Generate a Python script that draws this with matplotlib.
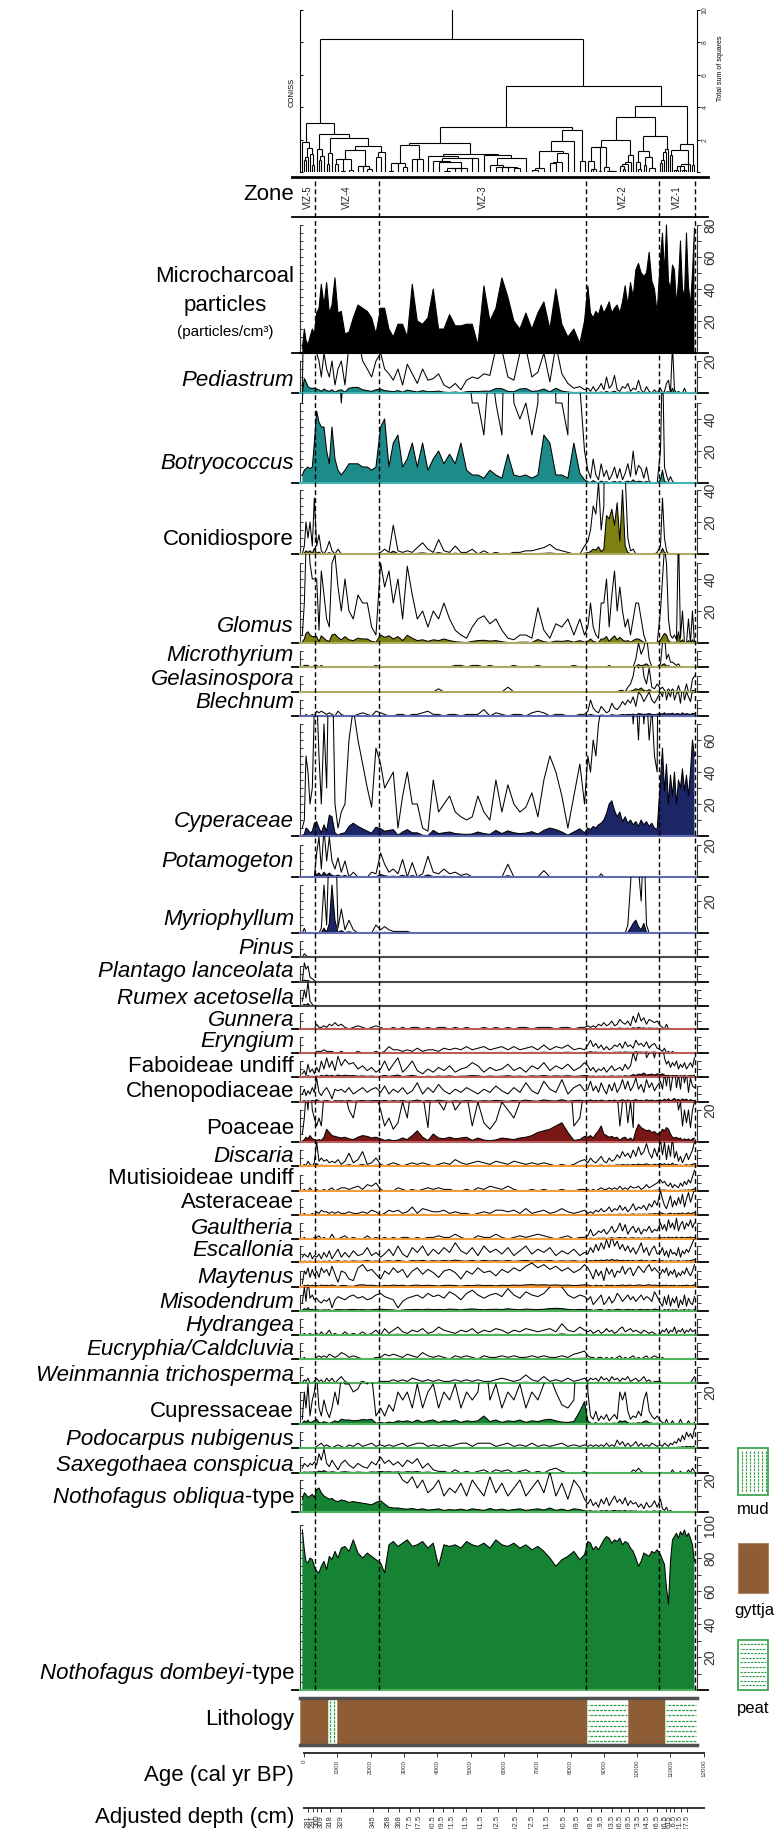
import numpy as np
import matplotlib
matplotlib.use("Agg")
import matplotlib.pyplot as plt
from matplotlib.collections import LineCollection
from matplotlib.lines import Line2D
from matplotlib.patches import Rectangle

plt.rcParams['font.family'] = ['Liberation Sans', 'DejaVu Sans']

# ============================ DATA ============================
# sample ages (cal yr BP); rows = zones VIZ-5 | VIZ-4 | VIZ-3 | VIZ-2 | VIZ-1
ages = [-50, 10, 60, 120, 180, 250, 310,
        380, 450, 520, 600, 680, 760, 840, 930, 1020, 1120, 1230, 1350, 1480, 1620, 1760, 1900, 2030, 2160,
        2300, 2420, 2550, 2680, 2820, 2960, 3100, 3250, 3400, 3560, 3720, 3880, 4040, 4200, 4370, 4540, 4710, 4880,
        5050, 5220, 5400, 5580, 5760, 5940, 6120, 6300, 6480, 6660, 6840, 7020, 7200, 7380, 7560, 7740, 7920, 8100, 8280, 8420,
        8520, 8600, 8680, 8760, 8840, 8920, 9000, 9080, 9160, 9240, 9320, 9400, 9480, 9560, 9640, 9720, 9800, 9880, 9960,
        10040, 10120, 10200, 10280, 10360, 10440, 10520, 10600,
        10700, 10760, 10820, 10880, 10940, 11000, 11060, 11120, 11180, 11240, 11300, 11360, 11420, 11480, 11540, 11600, 11660, 11720]

charcoal = [3, 15, 8, 5, 10, 15, 12,
            25, 28, 43, 30, 44, 25, 30, 47, 25, 26, 12, 13, 22, 30, 28, 26, 22, 12,
            28, 28, 15, 10, 18, 18, 10, 43, 20, 18, 22, 40, 15, 15, 24, 17, 17, 18, 18, 5, 42, 20, 28, 47, 35, 20, 15, 25, 15, 25, 32, 15, 40, 18, 10, 15, 6, 20,
            42, 25, 22, 26, 24, 30, 25, 28, 32, 25, 28, 30, 25, 32, 42, 30, 44, 35, 52, 56, 50, 48, 50, 63, 45, 40, 25,
            60, 75, 50, 80, 45, 40, 55, 52, 30, 45, 70, 40, 35, 75, 42, 30, 50, 78]

pediastrum = [0, 9, 7, 4, 3, 3, 3,
              2.5, 2, 1, 2.5, 1.5, 1, 2, 0.5, 1.5, 2, 0.5, 3, 3.5, 3.5, 2, 1.5, 1, 2,
              2.5, 1.5, 1.2, 0.8, 1.5, 0.5, 1.8, 1.2, 0.6, 1.5, 0.8, 0.9, 1.2, 0.5, 0.3, 0.6, 0.2, 0.8, 1.0, 0.9, 1.2, 1.1, 2.8, 2.7, 1.0, 0.8, 2.5, 2.8, 1.0, 1.3, 2.5, 0.7, 3.0, 1.2, 0.6, 0.3, 0.4, 0.2,
              0.3, 0.1, 0.4, 0.1, 0.3, 0.6, 0.2, 1.0, 0.3, 0.5, 1.1, 0.2, 0.1, 0.4, 0.3, 0.6, 0.1, 0.3, 0.2, 0.8, 0.2, 0.0, 0.4, 0.1, 0.0, 0.2, 0.0,
              0.3, 0.0, 0.1, 0.6, 0.8, 0.0, 3.0, 0.2, 0.0, 0.1, 0.0, 0.0, 0.3, 0.0, 0.0, 0.0, 0.0, 0.0]

botryococcus = [5, 8, 9, 10, 9, 10, 25,
                45, 38, 35, 35, 20, 12, 35, 15, 8, 5, 8, 12, 12, 12, 10, 10, 8, 10,
                35, 40, 10, 25, 30, 10, 15, 25, 10, 25, 8, 15, 20, 12, 18, 12, 25, 8, 5, 5, 3, 8, 5, 3, 18, 5, 4, 5, 3, 5, 30, 25, 5, 5, 3, 25, 6, 2,
                0.8, 0.3, 1.5, 0.5, 0.2, 1.2, 0.4, 0.8, 0.2, 0.5, 1.0, 0.3, 0.9, 0.2, 0.6, 1.2, 0.4, 2.0, 0.5, 1.1, 0.9, 0.3, 1.0, 0.1, 0, 0, 0,
                2, 8, 1, 0.5, 0.1, 0.4, 0.1, 0, 0, 0, 0, 0, 0, 0, 0, 0, 0, 0]

conidiospore = [0, 0.5, 2.0, 1.0, 2.0, 0.5, 3.5,
                0.5, 1.2, 0.2, 0, 0.3, 0.8, 0.2, 0, 0.3, 0, 0, 0, 0, 0, 0, 0, 0, 0,
                0.1, 0.3, 0.1, 1.8, 0.2, 0.1, 0.2, 0.1, 0.4, 0.7, 0.3, 0.1, 0.9, 0.2, 0.1, 0.5, 0.1, 0.1, 0.3, 0, 0.2, 0, 0.1, 0, 0, 0.1, 0.1, 0.2, 0.2, 0.3, 0.4, 0.6, 0.3, 0.2, 0.1, 0, 0, 0.5,
                0.8, 1.5, 3.0, 2.5, 4.5, 1.5, 3.0, 24, 22, 28, 18, 32, 8, 40, 5, 1.0, 0.2, 0.3, 0, 0, 0, 0, 0, 0, 0, 0, 0.1,
                0.5, 3.5, 1.0, 0.2, 0, 0, 0, 0, 0, 0, 0, 0, 0, 0, 0, 0, 0, 0]

glomus = [0.5, 2.5, 6, 7, 5, 4, 4,
          4.0, 0.8, 4.5, 3.0, 1.5, 1.0, 5.0, 5.5, 3.5, 2.0, 4.0, 2.0, 1.5, 3.0, 2.5, 2.5, 1.0, 0.5,
          5.0, 3.5, 4.5, 2.5, 4.0, 1.5, 4.8, 3.0, 1.5, 2.0, 1.0, 2.0, 1.5, 2.5, 1.5, 0.8, 0.5, 0.3, 1.0, 1.5, 1.7, 1.2, 1.5, 0.8, 0.3, 0.2, 0.5, 0.5, 0.3, 2.2, 0.8, 0.3, 1.2, 1.0, 1.5, 0.5, 1.5, 0.5,
          1.0, 2.5, 1.0, 0.5, 0.3, 2.5, 2.5, 4.0, 1.0, 3.0, 4.5, 2.0, 3.5, 2.0, 1.0, 1.5, 0.5, 1.5, 2.5, 2.5, 1.5, 0.5, 0, 0, 0, 0, 0,
          2.0, 4.0, 6.0, 5.0, 1.5, 0.5, 0.3, 0.5, 0.2, 7.0, 0.3, 2.0, 0, 0, 1.5, 0, 2.0, 0]

microthyrium = [0, 0.1, 0.1, 0.1, 0, 0, 0.1,
                0.1, 0, 0.1, 0, 0, 0, 0, 0, 0, 0, 0, 0, 0, 0, 0, 0, 0, 0.1,
                0, 0, 0, 0, 0, 0, 0, 0, 0, 0, 0, 0, 0, 0, 0, 0.1, 0.1, 0, 0.1, 0.1, 0, 0.1, 0, 0, 0, 0.1, 0, 0, 0, 0.1, 0, 0, 0, 0, 0, 0.1, 0, 0,
                0, 0, 0, 0, 0, 0, 0, 0, 0.1, 0, 0, 0, 0, 0, 0, 0, 0, 0, 0.5, 1.5, 0.8, 1.2, 2.0, 0.5, 0, 0, 0,
                0.2, 1.5, 2.0, 0.5, 0.8, 0.3, 0.3, 0.2, 0.1, 0.2, 0, 0, 0, 0, 0, 0, 0, 0]

gelasinospora = [0, 0, 0, 0, 0, 0, 0,
                 0, 0, 0, 0, 0, 0, 0, 0, 0, 0, 0, 0, 0, 0, 0, 0, 0, 0,
                 0, 0, 0, 0, 0, 0, 0, 0, 0, 0, 0, 0, 0.2, 0, 0, 0, 0, 0, 0, 0, 0, 0, 0, 0, 0.3, 0, 0, 0, 0, 0, 0, 0, 0, 0, 0, 0, 0, 0,
                 0, 0, 0, 0, 0, 0, 0, 0, 0, 0, 0, 0, 0.1, 0.1, 0, 0.3, 0.5, 1.0, 2.0, 1.5, 2.5, 1.0, 0.5, 1.5, 0.3, 0.2, 0.5,
                 0.2, 0.3, 0.1, 0, 0.2, 0, 0.2, 0, 0, 0.4, 0, 0, 0, 0.5, 0, 0, 0.8, 1.0]

blechnum = [0, 0, 0.1, 0, 0, 0.1, 0,
            0.3, 0.2, 0.3, 0.2, 0.1, 0.2, 0.1, 0, 0.3, 0.1, 0, 0, 0, 0.1, 0.2, 0.1, 0, 0.3,
            0.2, 0.1, 0, 0, 0.1, 0.1, 0, 0.1, 0.1, 0.2, 0.3, 0.1, 0.1, 0, 0.1, 0.1, 0, 0.1, 0.1, 0.1, 0.4, 0, 0.2, 0.1, 0, 0.1, 0.1, 0, 0.2, 0.3, 0.2, 0, 0.1, 0.1, 0, 0, 0.1, 0.1,
            0.3, 1.0, 0.5, 0.3, 0.2, 0.6, 0.4, 0.2, 0.3, 0.8, 0.5, 0.4, 0.6, 0.9, 0.7, 1.0, 0.8, 1.2, 0.6, 1.5, 1.3, 0.9, 1.2, 1.5, 1.0, 0.8, 1.1,
            1.5, 1.2, 2.0, 1.0, 1.5, 1.2, 1.8, 1.0, 1.4, 1.5, 0.8, 2.0, 1.0, 1.5, 1.2, 0.9, 1.6, 1.5]

cyperaceae = [0.5, 1.0, 5.0, 4.0, 2.0, 3.0, 8.0,
              9, 5, 2, 7, 3, 13, 12, 2, 0.5, 1.5, 2.0, 6.0, 8.0, 6.0, 4.5, 3.0, 1.8, 5.5,
              4.5, 3.0, 3.5, 4.0, 0.5, 2.5, 4.0, 2.0, 2.0, 0.5, 0.3, 3.5, 1.5, 2.0, 2.5, 1.5, 1.2, 1.0, 1.2, 2.5, 1.5, 1.0, 3.5, 1.5, 3.2, 2.0, 1.5, 1.8, 2.7, 1.2, 3.5, 5.0, 4.0, 2.5, 0.5, 2.5, 4.5, 2.0,
              5, 4, 6, 5, 7, 8, 10, 14, 20, 22, 16, 12, 15, 9, 12, 8, 10, 7, 9, 6, 10, 7, 9, 6, 8, 5, 4,
              35, 55, 28, 45, 20, 38, 25, 40, 20, 35, 30, 42, 28, 38, 25, 40, 60, 50]

potamogeton = [0, 0, 0, 0, 0, 0, 0,
               1.5, 2.5, 0.5, 3.0, 1.0, 2.5, 1.0, 0.5, 1.2, 0.3, 1.0, 0, 0.3, 0, 0, 0, 0.3, 0.2,
               1.5, 0.8, 0.3, 0.5, 0.2, 1.1, 0, 0.9, 0, 0.2, 1.3, 0.3, 0.2, 0.5, 0.2, 0.3, 0.1, 0.2, 0, 0, 0, 0, 0, 0, 0.8, 0, 0, 0, 0, 0, 0.4, 0, 0, 0, 0, 0, 0, 0,
               0, 0, 0, 0, 0, 0.2, 0, 0, 0, 0, 0, 0, 0, 0, 0, 0, 0, 0, 0, 0, 0, 0, 0, 0, 0, 0, 0,
               0, 0, 0, 0, 0, 0, 0, 0, 0, 0, 0, 0, 0, 0, 0, 0, 0, 0]

myriophyllum = [0, 0.3, 0, 0, 0, 0, 0,
                0, 0, 0.3, 3.0, 0.5, 6.0, 30, 8, 0.3, 1.5, 0.2, 0.8, 0.2, 0, 0, 0, 0, 0.5,
                0.2, 0.4, 0.2, 0.1, 0.1, 0.1, 0.1, 0, 0, 0, 0, 0, 0, 0, 0, 0, 0, 0, 0, 0, 0, 0, 0, 0, 0, 0, 0, 0, 0, 0, 0, 0, 0, 0, 0, 0, 0, 0,
                0, 0, 0, 0, 0, 0, 0, 0, 0, 0, 0, 0, 0, 0, 0, 0.5, 3, 6, 8, 4, 2, 6, 0.5, 0, 0, 0, 0,
                0, 0, 0, 0, 0, 0, 0, 0, 0, 0, 0, 0, 0, 0, 0, 0, 0, 0]

pinus = [0, 0.2, 0.1, 0, 0, 0, 0] + [0] * 101
plantago = [0, 1.2, 0.8, 1.0, 0.3, 0.2, 0.1] + [0] * 101
rumex = [0.3, 1.0, 0.5, 1.5, 0.3, 0.1, 0] + [0] * 101

gunnera = [0, 0, 0, 0, 0, 0, 0,
           0.3, 0.1, 0.1, 0.2, 0.1, 0.3, 0.2, 0.4, 0.2, 0.3, 0.1, 0, 0.1, 0.2, 0.1, 0, 0.1, 0.2,
           0.1, 0, 0, 0.1, 0, 0.1, 0, 0.1, 0.1, 0, 0.1, 0, 0.1, 0.1, 0, 0.1, 0, 0.1, 0, 0, 0.1, 0, 0.1, 0, 0.1, 0, 0.1, 0.1, 0, 0.1, 0.1, 0.1, 0, 0.1, 0.1, 0, 0.1, 0.1,
           0.2, 0.1, 0.2, 0.1, 0.3, 0.2, 0.4, 0.2, 0.3, 0.5, 0.2, 0.3, 0.6, 0.4, 0.3, 0.5, 0.2, 0.8, 0.4, 1.0, 0.5, 0.7, 0.3, 0.6, 0.5, 0.4, 0.5,
           0.2, 0.1, 0, 0.3, 0, 0, 0, 0, 0, 0, 0, 0, 0, 0, 0, 0, 0, 0]

eryngium = [0, 0, 0, 0, 0, 0, 0,
            0.1, 0.1, 0.1, 0.2, 0.1, 0.1, 0.1, 0, 0, 0.1, 0, 0, 0, 0.1, 0, 0, 0, 0.1,
            0, 0.1, 0.4, 0.2, 0.2, 0.1, 0.2, 0.1, 0.3, 0.1, 0.2, 0.2, 0.1, 0.3, 0.2, 0.3, 0.2, 0.4, 0.2, 0.3, 0.4, 0.2, 0.3, 0.4, 0.2, 0.4, 0.2, 0.3, 0.4, 0.2, 0.5, 0.2, 0.4, 0.3, 0.5, 0.2, 0.3, 0.2,
            0.5, 0.8, 0.4, 0.6, 0.3, 0.5, 0.2, 0.4, 0.2, 0.3, 0.5, 0.4, 0.6, 0.3, 0.7, 0.4, 0.5, 0.3, 0.8, 0.5, 0.6, 0.4, 0.7, 0.3, 0.5, 0.6, 0.3,
            0.2, 0.1, 0.3, 0, 0.1, 0, 0.1, 0, 0, 0, 0, 0, 0, 0, 0, 0, 0, 0]

faboideae = [0.2, 0.4, 0.1, 0.8, 0.3, 0.5, 0.2,
             0.6, 0.3, 1.0, 0.5, 1.2, 0.6, 1.0, 0.4, 1.3, 0.7, 1.1, 0.8, 0.9, 0.5, 0.7, 0.4, 0.6, 0.3,
             0.5, 1.0, 0.4, 0.8, 1.2, 0.3, 0.6, 1.0, 0.4, 0.2, 0.5, 0.3, 0.6, 0.4, 0.7, 0.3, 0.5, 0.6, 0.9, 0.7, 0.3, 0.6, 0.4, 0.5, 0.8, 0.4, 0.6, 0.3, 0.7, 0.5, 0.9, 0.4, 0.7, 0.5, 0.8, 0.4, 0.6, 0.9,
             0.7, 0.4, 0.6, 0.3, 0.5, 0.4, 0.6, 0.3, 0.5, 0.7, 0.4, 0.5, 0.6, 0.4, 0.8, 0.5, 0.7, 1.5, 1.0, 1.8, 1.5, 2.5, 1.2, 1.5, 1.8, 1.2, 2.0,
             1.5, 2.0, 1.2, 0.8, 1.0, 0.6, 0.9, 0.7, 1.0, 0.5, 0.8, 0.6, 0.9, 0.5, 0.7, 0.9, 0.6, 1.2]

chenopodiaceae = [0.5, 0.8, 0.4, 0.7, 0.5, 0.9, 0.6,
                  1.5, 0.6, 0.4, 0.7, 0.9, 0.6, 0.2, 0.8, 0.7, 0.8, 0.6, 0.9, 0.5, 0.7, 0.9, 0.6, 0.8, 0.9,
                  0.6, 1.0, 0.5, 0.8, 0.6, 0.9, 0.5, 0.7, 1.2, 0.5, 0.9, 0.6, 1.1, 0.7, 0.5, 0.8, 0.6, 0.9, 0.7, 0.5, 0.8, 0.6, 1.0, 0.7, 0.5, 0.9, 0.6, 1.2, 0.7, 0.5, 1.3, 0.8, 0.6, 1.4, 0.5, 0.9, 1.1, 0.7,
                  0.8, 1.3, 0.7, 1.0, 0.6, 1.2, 0.8, 0.5, 1.1, 0.7, 1.2, 0.6, 0.9, 1.4, 0.8, 1.3, 0.7, 1.0, 1.5, 0.8, 1.1, 0.6, 1.4, 0.9, 1.2, 0.7, 1.0,
                  1.3, 0.8, 1.8, 1.0, 2.0, 0.7, 1.5, 2.2, 0.9, 1.7, 0.8, 2.0, 1.2, 1.8, 0.6, 1.5, 1.0, 0.9]

poaceae = [0.5, 1.5, 3.0, 2.0, 4.0, 2.0, 1.5,
           1.0, 1.5, 1.0, 3.0, 8.0, 6.0, 4.0, 3.5, 3.0, 2.5, 3.0, 2.0, 1.5, 3.0, 4.0, 3.5, 2.5, 3.0,
           2.0, 1.0, 1.5, 0.8, 1.2, 2.5, 1.5, 4.0, 7.0, 3.0, 0.9, 5.0, 2.5, 2.0, 3.0, 2.0, 2.5, 3.0, 1.0, 2.5, 1.2, 0.8, 1.3, 2.5, 2.0, 1.5, 2.5, 3.0, 4.0, 6.0, 7.0, 8.0, 10.0, 12.0, 6.0, 1.0, 1.5, 3.5,
           3.0, 4.0, 2.5, 5.0, 7.0, 10.0, 5.0, 4.0, 3.0, 3.5, 2.5, 3.0, 1.0, 2.5, 3.0, 1.2, 2.5, 0.9, 7.0, 11.0, 9.0, 8.0, 7.0, 7.5, 6.0, 6.5, 5.0,
           6.0, 8.0, 7.0, 9.0, 8.0, 5.0, 3.0, 2.5, 3.0, 2.0, 2.5, 1.0, 2.0, 1.2, 2.0, 0.9, 2.0, 2.5]

discaria = [0, 0.1, 0, 0.3, 0.1, 0, 0.2,
            1.5, 0.3, 0.5, 0.3, 0.4, 0.2, 0.3, 0.2, 0.4, 0.1, 0.3, 0.8, 0.2, 0.4, 0.9, 0.1, 0.2, 0.5,
            0.1, 0, 0.1, 0.2, 0.1, 0, 0.1, 0.2, 0.1, 0.2, 0.1, 0, 0.1, 0.2, 0.1, 0.4, 0.2, 0.1, 0.2, 0.3, 0.2, 0.1, 0.3, 0.2, 0.1, 0.3, 0.2, 0.1, 0.2, 0.1, 0.2, 0.1, 0, 0.1, 0, 0.1, 0.3, 0.4,
            0.2, 0.5, 0.3, 0.2, 0.4, 0.6, 0.3, 0.2, 0.5, 0.3, 0.4, 0.7, 0.5, 0.9, 0.6, 0.8, 0.5, 1.0, 0.6, 1.2, 0.7, 0.9, 1.4, 0.8, 0.5, 1.1, 0.6,
            1.6, 0.7, 1.5, 0.4, 1.3, 0.6, 1.8, 0.5, 0.9, 0.3, 0.6, 0.2, 0.5, 0.8, 0.4, 0.7, 1.0, 1.5]

mutisioideae = [0, 0.1, 0, 0, 0.2, 0, 0,
                0.1, 0, 0, 0.1, 0, 0.1, 0.2, 0, 0.1, 0.2, 0.2, 0.1, 0.2, 0.3, 0.1, 0.4, 0.3, 0.5,
                0.1, 0, 0, 0, 0.2, 0.1, 0, 0.1, 0, 0.1, 0.2, 0.1, 0.2, 0.1, 0.1, 0, 0, 0.1, 0, 0.2, 0.1, 0.3, 0.2, 0.1, 0.3, 0.1, 0, 0, 0.1, 0, 0.1, 0, 0, 0.1, 0, 0, 0.1, 0.1,
                0.1, 0, 0.1, 0, 0.1, 0.2, 0.1, 0.1, 0.2, 0.1, 0.2, 0.1, 0.3, 0.1, 0.2, 0.1, 0.3, 0.2, 0.2, 0.3, 0.1, 0.2, 0.4, 0.2, 0.3, 0.4, 0.5,
                0.7, 0.5, 0.6, 0.4, 0.3, 0.5, 0.2, 0.4, 0.3, 0.2, 0.5, 0.3, 0.6, 0.4, 0.7, 0.5, 0.9, 1.3]

asteraceae = [0, 0.1, 0, 0, 0, 0.1, 0,
              0.2, 0.1, 0.3, 0.2, 0.2, 0.1, 0.2, 0.1, 0.2, 0.1, 0.1, 0.2, 0.1, 0.1, 0.2, 0.1, 0.3, 0.2,
              0, 0.1, 0.3, 0.2, 0.3, 0.1, 0.2, 0.5, 0.1, 0.4, 0.3, 0.2, 0.2, 0.3, 0.1, 0.2, 0.1, 0.1, 0, 0.1, 0.2, 0.1, 0.3, 0.3, 0.2, 0.3, 0.1, 0.4, 0.1, 0.2, 0.3, 0.1, 0.2, 0.4, 0.2, 0.1, 0.2, 0.3,
              0.1, 0.2, 0.1, 0.3, 0.2, 0.4, 0.2, 0.3, 0.5, 0.2, 0.4, 0.3, 0.6, 0.3, 0.5, 0.2, 0.4, 0.7, 0.3, 0.5, 0.4, 0.6, 0.3, 0.7, 0.5, 0.9, 0.6,
              1.5, 1.0, 0.6, 0.4, 0.8, 1.2, 0.5, 0.9, 0.6, 1.1, 0.7, 1.3, 0.5, 1.0, 1.4, 0.8, 1.2, 1.6]

gaultheria = [0, 0.1, 0, 0, 0, 0, 0.1,
              0.1, 0.2, 0, 0.1, 0, 0, 0.3, 0, 0, 0.1, 0.2, 0, 0.1, 0, 0, 0.2, 0, 0.1,
              0, 0.1, 0, 0.1, 0, 0.1, 0.1, 0, 0.1, 0, 0.1, 0.1, 0.2, 0.1, 0.1, 0.3, 0.1, 0, 0, 0.2, 0.1, 0.1, 0.3, 0.1, 0, 0.1, 0.2, 0.1, 0.2, 0.3, 0.2, 0.1, 0, 0.1, 0.2, 0, 0.1, 0.1,
              0.2, 0.6, 0.2, 0.3, 0.5, 0.4, 0.6, 0.3, 0.5, 0.8, 0.4, 0.6, 1.0, 0.5, 0.9, 0.3, 0.6, 0.8, 0.4, 0.7, 0.3, 0.6, 0.5, 0.8, 0.4, 0.6, 0.5,
              1.0, 0.6, 0.9, 0.5, 1.2, 0.7, 1.0, 0.6, 1.3, 0.5, 0.9, 1.1, 0.6, 1.0, 0.8, 1.2, 0.7, 1.0]

escallonia = [0.3, 0.5, 0.4, 0.3, 0.6, 0.2, 0.4,
              0.3, 0.5, 0.2, 0.6, 0.3, 0.7, 0.2, 0.5, 0.8, 0.3, 0.6, 0.3, 0.7, 0.4, 0.5, 0.9, 0.4, 0.6,
              0.3, 0.5, 0.8, 0.4, 1.0, 0.5, 0.3, 0.9, 0.6, 1.0, 0.4, 0.8, 0.5, 0.9, 0.6, 1.2, 0.7, 0.5, 0.9, 0.4, 1.0, 0.6, 0.8, 0.5, 0.9, 0.4, 0.7, 1.0, 0.5, 0.8, 0.6, 0.9, 0.4, 0.7, 0.5, 0.8, 0.4, 0.6,
              0.5, 0.9, 0.6, 1.1, 0.7, 1.2, 0.8, 1.4, 0.9, 1.6, 1.0, 1.3, 0.8, 1.1, 0.7, 1.0, 0.6, 0.9, 0.5, 0.8, 1.2, 0.6, 0.9, 0.4, 0.8, 1.0, 0.5,
              0.6, 0.9, 0.4, 0.7, 0.3, 0.8, 0.5, 0.6, 0.4, 0.9, 0.3, 0.7, 0.5, 0.8, 0.6, 0.9, 1.2, 1.5]

maytenus = [0.2, 1.0, 0.8, 1.2, 0.6, 1.1, 0.7,
            1.0, 0.6, 1.2, 0.9, 1.1, 0.7, 1.3, 0.8, 0.3, 1.0, 0.9, 0.5, 0.4, 1.2, 1.4, 1.0, 1.1, 0.8,
            0.5, 1.0, 0.8, 1.2, 0.9, 1.1, 0.6, 1.0, 1.2, 0.8, 1.1, 0.9, 0.6, 1.0, 1.1, 0.9, 0.5, 1.0, 0.8, 1.2, 0.9, 1.0, 0.7, 1.1, 0.9, 1.2, 1.0, 1.3, 1.5, 1.2, 1.4, 1.1, 1.3, 1.0, 1.2, 0.9, 1.1, 1.4,
            1.2, 0.9, 0.5, 1.1, 0.7, 1.0, 0.4, 1.2, 0.8, 1.1, 0.6, 1.0, 0.9, 1.3, 0.8, 1.1, 1.2, 0.7, 1.0, 1.3, 1.1, 0.9, 1.2, 1.4, 1.0, 1.2, 1.0,
            0.8, 1.1, 0.9, 1.2, 0.7, 1.0, 0.8, 1.1, 0.6, 0.9, 0.7, 1.0, 0.8, 1.2, 0.9, 0.7, 1.0, 1.4]

misodendrum = [0.5, 1.5, 0.6, 2.0, 0.8, 1.0, 0.7,
               0.8, 0.6, 0.5, 0.7, 0.6, 0.8, 0.2, 0.7, 0.9, 0.8, 0.7, 0.9, 1.0, 0.8, 0.9, 0.7, 0.8, 1.0,
               1.1, 0.9, 0.8, 0.7, 0.2, 0.6, 0.8, 0.9, 1.0, 0.8, 1.1, 0.9, 1.0, 0.8, 1.2, 1.0, 0.7, 1.1, 1.3, 1.0, 0.8, 1.0, 1.1, 0.9, 1.4, 1.0, 0.8, 1.2, 1.0, 0.9, 1.1, 1.5, 1.7, 1.5, 1.0, 0.8, 1.0, 0.9,
               0.7, 0.9, 0.4, 0.6, 0.8, 1.0, 0.4, 0.6, 0.9, 0.5, 0.7, 1.1, 0.9, 0.6, 0.8, 1.0, 0.7, 0.9, 0.6, 0.8, 1.0, 0.7, 0.9, 0.8, 0.6, 1.2, 0.9,
               0.5, 0.3, 0.9, 0.4, 1.0, 0.3, 0.8, 0.5, 0.9, 0.2, 0.7, 0.4, 1.0, 0.3, 0.8, 0.5, 0.4, 0.9]

hydrangea = [0, 0.1, 0, 0, 0.1, 0, 0,
             0.1, 0, 0.2, 0, 0.1, 0.3, 0, 0.1, 0, 0, 0.2, 0, 0.1, 0, 0.2, 0, 0.1, 0.3,
             0, 0.4, 0.1, 0.3, 0.5, 0.2, 0.1, 0.3, 0.2, 0.4, 0.1, 0.2, 0.5, 0.3, 0.2, 0.1, 0.3, 0.2, 0.4, 0.1, 0.3, 0.2, 0.4, 0.3, 0.1, 0.3, 0.2, 0.4, 0.3, 0.2, 0.3, 0.4, 0.2, 0.7, 0.3, 0.2, 0.5, 0.3,
             0.2, 0.3, 0.1, 0.2, 0.3, 0.1, 0.2, 0.4, 0.2, 0.3, 0.1, 0.2, 0.4, 0.5, 0.2, 0.3, 0.4, 0.2, 0.3, 0.2, 0.1, 0.3, 0.2, 0.1, 0.2, 0.1, 0,
             0.1, 0.3, 0.2, 0.4, 0.1, 0.3, 0.2, 0.5, 0.1, 0.3, 0.2, 0.4, 0.1, 0.3, 0.2, 0.4, 0.2, 0.3]

eucryphia = [0, 0.1, 0, 0, 0, 0, 0,
             0.1, 0.2, 0.1, 0.2, 0.1, 0.3, 0.2, 0.1, 0.2, 0.4, 0.3, 0.1, 0.2, 0.1, 0, 0, 0, 0.1,
             0.1, 0.3, 0.2, 0.3, 0.2, 0.1, 0.3, 0.2, 0.1, 0.4, 0.2, 0.1, 0.2, 0.1, 0, 0.2, 0.1, 0.2, 0.1, 0, 0.2, 0.1, 0.1, 0.2, 0.1, 0.2, 0.1, 0.1, 0.2, 0.1, 0.2, 0.1, 0.1, 0.2, 0.1, 0.3, 0.4, 0.5,
             0.2, 0.1, 0.1, 0, 0.1, 0.1, 0, 0.1, 0, 0.1, 0, 0.1, 0.2, 0, 0.1, 0, 0.1, 0.2, 0, 0.1, 0, 0.1, 0.2, 0, 0.1, 0.2, 0.1,
             0, 0.1, 0, 0, 0, 0, 0, 0, 0, 0, 0, 0, 0, 0, 0, 0, 0, 0]

weinmannia = [0, 0.2, 0.1, 0.3, 0, 0, 0.1,
              0.3, 0.1, 0.2, 0, 0.3, 0.1, 0.3, 0, 0.2, 0.4, 0.1, 0, 0, 0, 0.1, 0, 0, 0,
              0.1, 0.1, 0.1, 0.2, 0.1, 0.2, 0.1, 0.3, 0.2, 0.1, 0.2, 0.1, 0.2, 0.1, 0.1, 0.2, 0.1, 0.2, 0.1, 0.2, 0.1, 0.1, 0.2, 0.3, 0.2, 0.1, 0.2, 0.5, 0.2, 0.1, 0.4, 0.1, 0.2, 0.1, 0.3, 0.1, 0.2, 0.3,
              0.1, 0.3, 0.2, 0.3, 0.1, 0.4, 0.2, 0.3, 0.1, 0.4, 0.2, 0.3, 0.1, 0.3, 0.2, 0.4, 0.1, 0.2, 0.3, 0.1, 0.2, 0.4, 0.1, 0.2, 0, 0.1, 0.1,
              0.1, 0, 0, 0, 0, 0, 0, 0, 0, 0, 0, 0, 0, 0, 0, 0, 0.2, 0.4]

cupressaceae = [0.3, 2.0, 1.0, 2.5, 0.5, 1.5, 2.0,
                3.0, 1.0, 0.5, 1.5, 0.8, 0.4, 1.0, 2.0, 1.2, 3.0, 2.5, 2.5, 2.0, 2.2, 2.8, 2.5, 3.0, 0.5,
                1.0, 0.5, 1.2, 0.8, 2.0, 1.5, 2.0, 1.0, 2.5, 1.0, 2.0, 2.5, 1.0, 2.0, 1.5, 2.5, 1.0, 2.0, 1.5, 2.0, 5.0, 1.5, 2.5, 1.0, 2.0, 1.5, 2.5, 1.0, 2.0, 1.5, 2.5, 3.0, 2.0, 1.2, 1.0, 1.5, 8.0, 14.0,
                2.0, 0.5, 0.3, 0.8, 0.2, 0.5, 0.3, 0.6, 0.2, 0.4, 0.6, 0.3, 2.0, 1.5, 2.0, 0.8, 0.3, 0.5, 0.4, 0.8, 0.5, 1.5, 2.0, 0.8, 0.5, 0.3, 0.5,
                0.2, 0.1, 0, 0.3, 0, 0, 0.2, 0, 0, 0, 0.3, 0, 0, 0, 0.2, 0, 0, 0.1]

podocarpus = [0, 0, 0, 0, 0, 0, 0,
              0.1, 0.2, 0.3, 0.1, 0.2, 0.1, 0, 0.1, 0.2, 0.1, 0, 0.2, 0.1, 0.3, 0.1, 0.2, 0.3, 0.1,
              0.2, 0.1, 0.2, 0.1, 0.2, 0.3, 0.1, 0.2, 0.3, 0.3, 0.1, 0.2, 0.1, 0.2, 0.1, 0.2, 0.3, 0.3, 0.1, 0.3, 0.3, 0.3, 0.1, 0.2, 0.3, 0.1, 0.2, 0.1, 0.3, 0.1, 0.2, 0.1, 0.2, 0.3, 0.1, 0.2, 0.1, 0.2,
              0.1, 0.2, 0.1, 0.2, 0.1, 0.2, 0.1, 0.3, 0.1, 0.2, 0.1, 0.5, 0.2, 0.4, 0.1, 0.3, 0.1, 0.2, 0.4, 0.1, 0.3, 0.1, 0.2, 0.1, 0.3, 0.2, 0.1,
              0.2, 0.1, 0.3, 0.2, 0.1, 0.3, 0.2, 0.4, 0.3, 0.6, 0.4, 0.8, 0.5, 1.0, 0.7, 0.9, 0.6, 1.2]

saxegothaea = [0.3, 0.6, 0.5, 0.4, 0.6, 0.5, 0.7,
               0.5, 1.2, 0.8, 1.5, 0.6, 0.4, 0.8, 0.5, 0.2, 0.6, 0.8, 0.5, 0.3, 0.6, 0.4, 0.3, 0.7, 0.5,
               1.0, 0.6, 0.8, 0.5, 0.7, 0.4, 0.8, 0.6, 0.9, 0.3, 0.6, 0.2, 0.1, 0.1, 0, 0.2, 0, 0.1, 0, 0.1, 0.2, 0, 0.2, 0.1, 0.2, 0, 0.1, 0.2, 0, 0.1, 0, 0.2, 0.3, 0.1, 0, 0, 0, 0.1,
               0, 0, 0, 0, 0, 0, 0, 0, 0, 0, 0, 0, 0, 0, 0, 0, 0, 0.2, 0.1, 0.3, 0.1, 0, 0, 0, 0, 0, 0,
               0, 0, 0, 0, 0, 0, 0.2, 0, 0, 0, 0.1, 0, 0, 0, 0.2, 0, 0.3, 0.1]

nothofagus_obliqua = [8, 12, 11, 9, 10, 11, 9,
                      14, 15, 12, 10, 9, 8, 8.5, 7, 6.5, 7.5, 7, 6, 6.5, 6, 5.5, 5, 4.5, 6,
                      7, 5, 3, 2.5, 2.5, 2, 1.8, 2.2, 1.5, 2.0, 1.2, 1.5, 2.0, 1.0, 1.5, 1.2, 1.8, 1.0, 2.0, 1.5, 1.0, 2.2, 1.2, 1.8, 1.0, 1.5, 2.0, 1.0, 1.5, 2.0, 1.2, 2.5, 1.0, 1.8, 0.8, 2.0, 1.5, 0.8,
                      0.5, 0.8, 0.4, 0.6, 0.3, 0.8, 0.5, 0.9, 0.4, 0.7, 1.0, 0.6, 0.8, 0.5, 0.9, 0.4, 0.7, 0.5, 0.6, 0.3, 0.5, 0.2, 0.6, 0.3, 0.4, 0.7, 0.3,
                      0.8, 0.2, 0.1, 0.3, 0, 0.1, 0, 0, 0, 0, 0, 0, 0, 0, 0, 0, 0, 0]

nothofagus_dombeyi = [97, 85, 78, 77, 80, 79, 75,
                      72, 71, 75, 78, 73, 81, 79, 84, 80, 86, 87, 84, 91, 83, 80, 83, 81, 79,
                      77, 71, 88, 90, 87, 89, 91, 87, 88, 90, 86, 89, 75, 88, 87, 88, 86, 90, 88, 87, 89, 86, 91, 88, 87, 89, 86, 88, 85, 87, 84, 80, 75, 79, 81, 84, 79, 82,
                      90, 89, 85, 87, 85, 88, 91, 93, 92, 89, 91, 90, 92, 88, 90, 89, 86, 84, 80, 75, 78, 83, 82, 81, 84, 83, 85,
                      82, 79, 76, 62, 52, 78, 91, 93, 95, 92, 96, 94, 97, 93, 95, 92, 88, 78]

zone_names = ['VIZ-5', 'VIZ-4', 'VIZ-3', 'VIZ-2', 'VIZ-1']
zone_bounds = [330, 2245, 8470, 10660, 11740]

lith_start = [-120, 720, 990, 8500, 9730, 10830]
lith_end = [720, 990, 8500, 9730, 10830, 11796]
lith_type = ['gyttja', 'mud', 'gyttja', 'peat', 'gyttja', 'peat']

age_ticks = [0, 1000, 2000, 3000, 4000, 5000, 6000, 7000, 8000, 9000, 10000, 11000, 12000]
depth_labels = ['281', '291', '300', '309', '318', '329', '345', '358', '368', '377.5', '387.5', '400.5',
                '409.5', '421.5', '431.5', '441.5', '452.5', '462.5', '472.5', '481.5', '490.5', '499.5',
                '509.5', '519.5', '533.5', '546.5', '559.5', '573.5', '584.5', '596.5', '606.5', '615',
                '616.5', '621.5', '627.5']
depth_ages = [129, 260, 380, 500, 778, 1107, 2074, 2522, 2852, 3172, 3450, 3869,
              4168, 4467, 4868, 5317, 5814, 6364, 6861, 7310, 7810, 8208,
              8609, 8908, 9255, 9506, 9755, 10024, 10302, 10601, 10853, 10973,
              11101, 11302, 11499]

coniss_top = 8.2      # height of the root node
EXAG = 10             # exaggeration factor of the hollow curves

# ============================ LAYOUT ============================
W, H = 775, 1829
fig = plt.figure(figsize=(W / 100, H / 100), dpi=100)
fig.patch.set_facecolor('white')
X0, X1 = 300, 697
XLIM = (-120, 11796)
LAB_X = 294
LAB_FS = 16

COLORS = {
    'black': ('#000000', '#000000'),
    'teal': ('#1e8b8b', '#45b3b3'),
    'olive': ('#7f7f12', '#abab62'),
    'navy': ('#1c2566', '#5f6bb3'),
    'grey': ('#000000', '#4a4a4a'),
    'red': ('#7b1616', '#bb5c5c'),
    'orange': ('#f28c28', '#f59a35'),
    'green': ('#168233', '#52b35e'),
}


def px_axes(left, top, right, bottom, z=1):
    ax = fig.add_axes([left / W, 1 - bottom / H, (right - left) / W, (bottom - top) / H], zorder=z)
    ax.patch.set_alpha(0)
    return ax


def hline_px(y, x0=292, x1=708, lw=1.2, color='k'):
    fig.add_artist(Line2D([x0 / W, x1 / W], [1 - y / H, 1 - y / H], lw=lw, color=color))


def panel(top, bottom, vals, group, exag=True, scale=1.6):
    ax = px_axes(X0, top, X1, bottom)
    ymax = (bottom - top) / scale
    ax.set_xlim(*XLIM)
    ax.set_ylim(0, ymax)
    n = min(len(ages), len(vals))
    if len(vals) != len(ages):
        print('length mismatch', len(vals), len(ages))
    a = np.asarray(ages[:n], float)
    v = np.asarray(vals[:n], float)
    fc, bc = COLORS[group]
    ax.fill_between(a, 0, v, facecolor=fc, edgecolor='none', zorder=2)
    if exag:
        ax.plot(a, v * EXAG, color='k', lw=0.75, zorder=3)
    ax.plot(a, v, color='k', lw=0.75, zorder=4)
    ytr = ax.get_yaxis_transform()
    ax.plot([-0.02, 1.028], [0, 0], transform=ytr, color='k', lw=1.3, clip_on=False, zorder=5)
    ax.plot([0.0, 1.0], [0, 0], transform=ytr, color=bc, lw=1.5, clip_on=False, zorder=6)
    step = 10 if ymax >= 19 else 5
    top_tick = np.floor((ymax - 1) / step) * step
    ticks = np.arange(step, top_tick + 0.01, step)
    for s in ('top', 'bottom', 'right'):
        ax.spines[s].set_visible(False)
    ax.spines['left'].set_bounds(0, top_tick)
    ax.spines['left'].set_color('#333333')
    ax.spines['left'].set_linewidth(0.8)
    ax.set_yticks(np.arange(0, top_tick + 0.01, 5))
    ax.set_yticklabels([])
    ax.tick_params(axis='y', direction='in', length=2.5, width=0.7, color='#333333')
    ax.set_xticks([])
    ax2 = ax.twinx()
    ax2.patch.set_alpha(0)
    ax2.set_ylim(0, ymax)
    for s in ('top', 'bottom', 'left'):
        ax2.spines[s].set_visible(False)
    ax2.spines['right'].set_bounds(0, top_tick)
    ax2.spines['right'].set_color('#333333')
    ax2.spines['right'].set_linewidth(0.8)
    ax2.set_yticks(ticks)
    ax2.set_yticklabels([str(int(t)) if (step == 10 and t % 20 == 0) else '' for t in ticks],
                        rotation=90, va='center', fontsize=10, color='#333333')
    ax2.tick_params(axis='y', direction='out', length=3, width=0.7, pad=1.5, color='#333333')
    return ax


# ---------------- text layer (pixel coordinates) ----------------
axt = fig.add_axes([0, 0, 1, 1], zorder=20)
axt.set_xlim(0, W)
axt.set_ylim(H, 0)
axt.axis('off')
axt.patch.set_alpha(0)


def label(y, text, italic=False, fs=LAB_FS, x=LAB_X, ha='right'):
    return axt.text(x, y, text, ha=ha, va='center', fontsize=fs,
                    style='italic' if italic else 'normal', color='black')


# ---------------- CONISS dendrogram (terrestrial pollen taxa) ----------------
pollen_series = [pinus, plantago, rumex, gunnera, eryngium, faboideae,
                 chenopodiaceae, poaceae, discaria, mutisioideae, asteraceae, gaultheria, escallonia, maytenus,
                 misodendrum, hydrangea, eucryphia, weinmannia, cupressaceae, podocarpus, saxegothaea,
                 nothofagus_obliqua, nothofagus_dombeyi]
nmin = min([len(ages)] + [len(s) for s in pollen_series])
P = np.column_stack([np.asarray(s[:nmin], float) for s in pollen_series])
P = P / P.sum(axis=1, keepdims=True)
Xm = np.sqrt(P)


def coniss(Xm, xs):
    cl = [dict(n=1, s=Xm[i].copy(), x=float(xs[i]), h=0.0) for i in range(len(xs))]
    segs = []
    total = 0.0
    while len(cl) > 1:
        best, bi = None, 0
        for i in range(len(cl) - 1):
            a, b = cl[i], cl[i + 1]
            d = a['n'] * b['n'] / (a['n'] + b['n']) * np.sum((a['s'] / a['n'] - b['s'] / b['n']) ** 2)
            if best is None or d < best:
                best, bi = d, i
        a, b = cl[bi], cl[bi + 1]
        total += best
        node = dict(n=a['n'] + b['n'], s=a['s'] + b['s'], x=(a['x'] + b['x']) / 2, h=total)
        segs.append([(a['x'], a['h']), (a['x'], total)])
        segs.append([(b['x'], b['h']), (b['x'], total)])
        segs.append([(a['x'], total), (b['x'], total)])
        cl[bi:bi + 2] = [node]
    return segs, cl[0], total


segs, root, total = coniss(Xm, ages[:nmin])
k = coniss_top / total
segs = [[(p[0][0], p[0][1] * k), (p[1][0], p[1][1] * k)] for p in segs]

axd = px_axes(X0, 10, X1, 172)
axd.set_xlim(*XLIM)
axd.set_ylim(0, 10)
axd.add_collection(LineCollection(segs, colors='k', linewidths=0.8))
axd.plot([root['x'], root['x']], [coniss_top, 10], color='k', lw=0.8)
for s in ('top', 'bottom', 'right'):
    axd.spines[s].set_visible(False)
axd.spines['left'].set_linewidth(0.8)
axd.set_xticks([])
axd.set_yticks([0, 2, 4, 6, 8, 10])
axd.set_yticklabels([])
axd.tick_params(axis='y', direction='in', length=2.5, width=0.7)
axd2 = axd.twinx()
axd2.patch.set_alpha(0)
axd2.set_ylim(0, 10)
for s in ('top', 'bottom', 'left'):
    axd2.spines[s].set_visible(False)
axd2.spines['right'].set_linewidth(0.8)
axd2.set_yticks([0, 2, 4, 6, 8, 10])
axd2.set_yticklabels(['', '2', '4', '6', '8', '10'], rotation=90, va='center', fontsize=5, color='#333333')
axd2.tick_params(axis='y', direction='out', length=2.5, width=0.7, pad=1)
axt.text(292, 92, 'CONISS', rotation=90, ha='center', va='center', fontsize=5.5)
axt.text(721, 68, 'Total sum of squares', rotation=90, ha='center', va='center', fontsize=5)

hline_px(176.5, lw=2.0)
hline_px(217, lw=1.3)

# zone labels
zb = [XLIM[0]] + zone_bounds


def age_px(a):
    return X0 + (a - XLIM[0]) / (XLIM[1] - XLIM[0]) * (X1 - X0)


for i, zn in enumerate(zone_names):
    c = (zb[i] + zb[i + 1]) / 2
    axt.text(age_px(c), 197, zn, rotation=90, ha='center', va='center', fontsize=7, color='#222222')
label(195, 'Zone')

# ---------------- panels ----------------
specs = [
    (217, 353, charcoal, 'black', False, None, False, None),
    (353, 393, pediastrum, 'teal', True, 'Pediastrum', True, 380),
    (393, 483, botryococcus, 'teal', True, 'Botryococcus', True, 464),
    (483, 554, conidiospore, 'olive', True, 'Conidiospore', False, 539),
    (554, 643, glomus, 'olive', True, 'Glomus', True, 627),
    (643, 667, microthyrium, 'olive', True, 'Microthyrium', True, 656),
    (667, 692, gelasinospora, 'olive', True, 'Gelasinospora', True, 680),
    (692, 716, blechnum, 'navy', True, 'Blechnum', True, 703),
    (716, 836, cyperaceae, 'navy', True, 'Cyperaceae', True, 821),
    (836, 877, potamogeton, 'navy', True, 'Potamogeton', True, 862),
    (877, 933, myriophyllum, 'navy', True, 'Myriophyllum', True, 920),
    (933, 957, pinus, 'grey', True, 'Pinus', True, 949),
    (957, 982, plantago, 'grey', True, 'Plantago lanceolata', True, 972),
    (982, 1006, rumex, 'grey', True, 'Rumex acetosella', True, 998),
    (1006, 1029, gunnera, 'red', True, 'Gunnera', True, 1020),
    (1029, 1053, eryngium, 'red', True, 'Eryngium', True, 1042),
    (1053, 1077, faboideae, 'red', True, 'Faboideae undiff', False, 1067),
    (1077, 1102, chenopodiaceae, 'red', True, 'Chenopodiaceae', False, 1092),
    (1102, 1142, poaceae, 'red', True, 'Poaceae', False, 1128),
    (1142, 1166, discaria, 'orange', True, 'Discaria', True, 1157),
    (1166, 1191, mutisioideae, 'orange', True, 'Mutisioideae undiff', False, 1179),
    (1191, 1215, asteraceae, 'orange', True, 'Asteraceae', False, 1203),
    (1215, 1239, gaultheria, 'orange', True, 'Gaultheria', True, 1228),
    (1239, 1262, escallonia, 'orange', True, 'Escallonia', True, 1251),
    (1262, 1287, maytenus, 'orange', True, 'Maytenus', True, 1278),
    (1287, 1311, misodendrum, 'green', True, 'Misodendrum', True, 1302),
    (1311, 1335, hydrangea, 'green', True, 'Hydrangea', True, 1325),
    (1335, 1359, eucryphia, 'green', True, 'Eucryphia/Caldcluvia', True, 1350),
    (1359, 1383, weinmannia, 'green', True, 'Weinmannia trichosperma', True, 1375),
    (1383, 1424, cupressaceae, 'green', True, 'Cupressaceae', False, 1412),
    (1424, 1448, podocarpus, 'green', True, 'Podocarpus nubigenus', True, 1440),
    (1448, 1473, saxegothaea, 'green', True, 'Saxegothaea conspicua', True, 1465),
    (1473, 1512, nothofagus_obliqua, 'green', True, None, False, None),
]
for top, bot, vals, grp, ex, name, it, ly in specs:
    panel(top, bot, vals, grp, exag=ex)
    if name:
        label(ly, name, italic=it)
panel(1512, 1690, nothofagus_dombeyi, 'green', exag=False, scale=1.65)

# special labels
label(277, 'Microcharcoal', x=225, ha='center')
label(305, 'particles', x=225, ha='center')
label(332, '(particles/cm³)', x=225, ha='center', fs=11)
for ly, sp in ((1498, 'Nothofagus obliqua'), (1673, 'Nothofagus dombeyi')):
    t1 = label(ly, '-type')
    axt.annotate(sp, xy=(0, 0), xycoords=t1, ha='right', va='bottom', fontsize=LAB_FS,
                 style='italic', annotation_clip=False)

# zone dashed lines (overlay)
axz = px_axes(X0, 177, X1, 1690, z=10)
axz.set_xlim(*XLIM)
axz.set_ylim(0, 1)
axz.axis('off')
for b in zone_bounds:
    axz.axvline(b, color='k', lw=1.0, linestyle=(0, (3.5, 2.2)))

# ---------------- lithology ----------------
BROWN = '#8e5d35'
PGREEN = '#2f9e44'
axl = px_axes(X0, 1697, X1, 1746)
axl.set_xlim(*XLIM)
axl.set_ylim(0, 1)
axl.axis('off')
px_yr = (XLIM[1] - XLIM[0]) / (X1 - X0)
for s0, s1, tp in zip(lith_start, lith_end, lith_type):
    if tp == 'gyttja':
        axl.add_patch(Rectangle((s0, 0.05), s1 - s0, 0.9, facecolor=BROWN, edgecolor='#b08a68', lw=0.6))
    elif tp == 'peat':
        axl.add_patch(Rectangle((s0, 0.05), s1 - s0, 0.9, facecolor='white', edgecolor='#cfe6cf', lw=0.6))
        for j, yy in enumerate(np.arange(0.1, 0.93, 0.105)):
            axl.plot([s0 + px_yr, s1 - px_yr], [yy, yy], color=PGREEN, lw=0.9,
                     linestyle=(1.5 * (j % 2), (2.2, 0.9)))
    else:
        axl.add_patch(Rectangle((s0, 0.05), s1 - s0, 0.9, facecolor='white', edgecolor='#cfe6cf', lw=0.6))
        for xx in np.arange(s0 + 2.5 * px_yr, s1 - px_yr, 3.5 * px_yr):
            axl.plot([xx, xx], [0.08, 0.92], color=PGREEN, lw=0.9, linestyle=(0, (2.2, 0.9)))
axl.plot([XLIM[0], XLIM[1]], [0.985, 0.985], color='#505050', lw=2.5, clip_on=False)
axl.plot([XLIM[0], XLIM[1]], [0.015, 0.015], color='#505050', lw=2.5, clip_on=False)
label(1720, 'Lithology')

# ---------------- age and depth axes ----------------
right_age = XLIM[0] + (705 - X0) * (XLIM[1] - XLIM[0]) / (X1 - X0)
for ybot, ticks, labs, fs in ((1753, age_ticks, [str(t) for t in age_ticks], 4.5),
                              (1808, depth_ages, depth_labels, 5.5)):
    axa = px_axes(X0, ybot - 10, 705, ybot)
    axa.set_xlim(XLIM[0], right_age)
    for s in ('top', 'left', 'right'):
        axa.spines[s].set_visible(False)
    axa.spines['bottom'].set_bounds(0, 12000)
    axa.spines['bottom'].set_linewidth(1.4)
    axa.spines['bottom'].set_color('#333333')
    axa.set_yticks([])
    axa.set_xticks(ticks)
    axa.set_xticklabels(labs, rotation=90, fontsize=fs, color='#333333')
    axa.tick_params(axis='x', direction='out', length=3, width=0.7, pad=2, color='#333333')
label(1775, 'Age (cal yr BP)')
label(1817, 'Adjusted depth (cm)')

# ---------------- lithology legend ----------------
axt.add_patch(Rectangle((738, 1448), 30, 47, facecolor='white', edgecolor=PGREEN, lw=1.2))
for xx in np.arange(742, 767, 4):
    axt.plot([xx, xx], [1451, 1492], color=PGREEN, lw=0.8, linestyle=(0, (2.2, 0.9)))
axt.add_patch(Rectangle((738, 1543), 30, 50, facecolor=BROWN, edgecolor='#b08a68', lw=0.8))
axt.add_patch(Rectangle((738, 1640), 30, 50, facecolor='white', edgecolor=PGREEN, lw=1.2))
for j, yy in enumerate(np.arange(1644, 1688, 4.6)):
    axt.plot([740, 766], [yy, yy], color=PGREEN, lw=0.8, linestyle=(1.5 * (j % 2), (2.2, 0.9)))
axt.text(753, 1510, 'mud', ha='center', va='center', fontsize=12)
axt.text(754, 1610, 'gyttja', ha='center', va='center', fontsize=12)
axt.text(753, 1708, 'peat', ha='center', va='center', fontsize=12)

fig.savefig('out.png', dpi=100, facecolor='white')
